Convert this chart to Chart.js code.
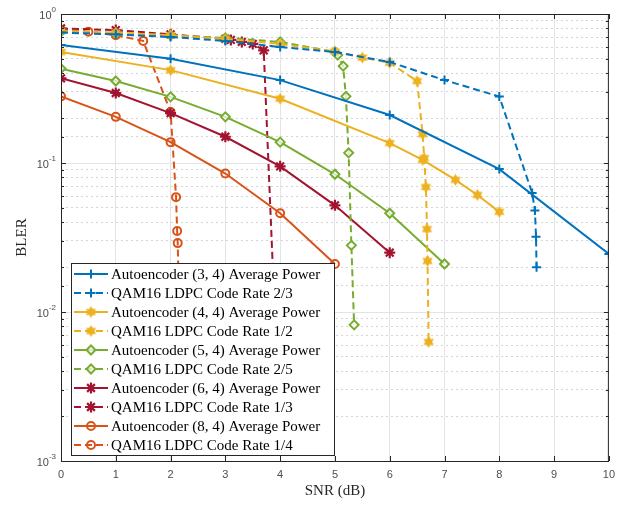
<!DOCTYPE html>
<html>
<head>
<meta charset="utf-8">
<script src="https://cdn.jsdelivr.net/npm/chart.js@4.4.0/dist/chart.umd.min.js"></script>
<style>
  html, body { margin: 0; padding: 0; background: #fff; }
  #wrap { width: 622px; height: 507px; }
</style>
</head>
<body>
<div id="wrap"><canvas id="blerChart" width="622" height="507"></canvas></div>
<script>
// ---- data ----
var xTicks = [0, 1, 2, 3, 4, 5, 6, 7, 8, 9, 10];
var yMajor = [1, 0.1, 0.01, 0.001];
var yMajorExp = ['0', '-1', '-2', '-3'];

var ae34Snr = [0, 2, 4, 6, 8, 10];
var ae34Bler = [0.62, 0.50, 0.36, 0.21, 0.091, 0.0245];
var qam23Snr = [0, 1, 2, 3, 4, 5, 6, 7, 8, 8.6, 8.65, 8.67, 8.68];
var qam23Bler = [0.75, 0.73, 0.70, 0.66, 0.60, 0.556, 0.476, 0.36, 0.279, 0.063, 0.048, 0.032, 0.020];

var ae44Snr = [0, 2, 4, 6, 6.6, 7.2, 7.6, 8];
var ae44Bler = [0.556, 0.42, 0.27, 0.136, 0.105, 0.077, 0.061, 0.047];
var qam12Snr = [0, 1, 2, 3, 4, 5, 5.5, 6, 6.5, 6.6, 6.63, 6.66, 6.68, 6.69, 6.71];
var qam12Bler = [0.77, 0.75, 0.72, 0.68, 0.63, 0.56, 0.51, 0.47, 0.355, 0.156, 0.108, 0.069, 0.036, 0.022, 0.0063];

var ae54Snr = [0, 1, 2, 3, 4, 5, 6, 7];
var ae54Bler = [0.43, 0.355, 0.278, 0.204, 0.138, 0.084, 0.046, 0.021];
var qam25Snr = [0, 1, 2, 3, 4, 5, 5.05, 5.15, 5.2, 5.25, 5.3, 5.35];
var qam25Bler = [0.76, 0.74, 0.72, 0.69, 0.65, 0.556, 0.53, 0.447, 0.28, 0.117, 0.028, 0.0082];

var ae64Snr = [0, 1, 2, 3, 4, 5, 6];
var ae64Bler = [0.37, 0.295, 0.216, 0.15, 0.095, 0.052, 0.025];
var qam13Snr = [0, 1, 2, 3, 3.1, 3.3, 3.5, 3.7, 3.9];
var qam13Bler = [0.80, 0.78, 0.73, 0.68, 0.67, 0.65, 0.63, 0.57, 0.01];

var ae84Snr = [0, 1, 2, 3, 4, 5];
var ae84Bler = [0.28, 0.204, 0.138, 0.085, 0.046, 0.021];
var qam14Snr = [0, 0.5, 1, 1.5, 2, 2.1, 2.12, 2.13, 2.16];
var qam14Bler = [0.78, 0.76, 0.72, 0.66, 0.22, 0.059, 0.035, 0.029, 0.01];

// matlab colours
var cBlue = '#0072BD', cYellow = '#EDB120', cGreen = '#77AC30', cRed = '#A2142F', cOrange = '#D95319';

// six pointed star marker (no hexagram in chart.js)
function makeHexagram(color) {
    var c = document.createElement('canvas');
    c.width = 13; c.height = 13;
    var g = c.getContext('2d');
    var cx = 6.5, cy = 6.5, r = 6;
    g.fillStyle = color;
    for (var t = 0; t < 2; t++) {
        g.beginPath();
        for (var k = 0; k < 3; k++) {
            var a = -Math.PI / 2 + t * Math.PI + k * 2 * Math.PI / 3;
            var px = cx + r * Math.cos(a), py = cy + r * Math.sin(a);
            if (k === 0) g.moveTo(px, py); else g.lineTo(px, py);
        }
        g.closePath();
        g.fill();
    }
    return c;
}
var hexStar = makeHexagram(cYellow);

function pts(xs, ys) {
    return xs.map(function(x, i) { return {x: x, y: ys[i]}; });
}

function series(label, xs, ys, color, dashed, marker) {
    var d = {
        label: label,
        data: pts(xs, ys),
        borderColor: color,
        borderWidth: 2,
        borderDash: dashed ? [7, 4] : [],
        fill: false,
        tension: 0,
        pointStyle: marker.style,
        pointRadius: marker.radius,
        pointBorderWidth: marker.width,
        pointBorderColor: color,
        pointBackgroundColor: marker.fill || 'rgba(0,0,0,0)'
    };
    return d;
}

var mPlus = {style: 'cross', radius: 4.5, width: 2};
var mHex = {style: hexStar, radius: 6, width: 0};
var mDiamond = {style: 'rectRot', radius: 4.5, width: 2, fill: 'rgba(255,255,255,0.7)'};
var mAst = {style: 'star', radius: 5.5, width: 2.2};
var mCircle = {style: 'circle', radius: 4, width: 2};

var datasets = [
    series('Autoencoder (3, 4) Average Power', ae34Snr, ae34Bler, cBlue, false, mPlus),
    series('QAM16 LDPC Code Rate 2/3', qam23Snr, qam23Bler, cBlue, true, mPlus),
    series('Autoencoder (4, 4) Average Power', ae44Snr, ae44Bler, cYellow, false, mHex),
    series('QAM16 LDPC Code Rate 1/2', qam12Snr, qam12Bler, cYellow, true, mHex),
    series('Autoencoder (5, 4) Average Power', ae54Snr, ae54Bler, cGreen, false, mDiamond),
    series('QAM16 LDPC Code Rate 2/5', qam25Snr, qam25Bler, cGreen, true, mDiamond),
    series('Autoencoder (6, 4) Average Power', ae64Snr, ae64Bler, cRed, false, mAst),
    series('QAM16 LDPC Code Rate 1/3', qam13Snr, qam13Bler, cRed, true, mAst),
    series('Autoencoder (8, 4) Average Power', ae84Snr, ae84Bler, cOrange, false, mCircle),
    series('QAM16 LDPC Code Rate 1/4', qam14Snr, qam14Bler, cOrange, true, mCircle)
];

function isDecade(v) {
    var l = Math.log10(v);
    return Math.abs(l - Math.round(l)) < 1e-6;
}

function drawMarker(ctx, m, color, x, y) {
    if (typeof m.style !== 'string') {
        ctx.drawImage(m.style, x - m.style.width / 2, y - m.style.height / 2);
        return;
    }
    ctx.save();
    ctx.strokeStyle = color;
    ctx.fillStyle = m.fill || 'rgba(0,0,0,0)';
    ctx.lineWidth = m.width;
    ctx.setLineDash([]);
    if (Chart.helpers && Chart.helpers.drawPoint) {
        Chart.helpers.drawPoint(ctx, {pointStyle: m.style, radius: m.radius, rotation: 0, borderWidth: m.width}, x, y);
    } else {
        ctx.beginPath();
        ctx.arc(x, y, m.radius, 0, Math.PI * 2);
        ctx.stroke();
    }
    ctx.restore();
}

var markers = [mPlus, mPlus, mHex, mHex, mDiamond, mDiamond, mAst, mAst, mCircle, mCircle];

// box around the axes + inward ticks like matlab, and 10^n labels with superscripts
var framePlugin = {
    id: 'frame',
    afterDatasetsDraw: function(chart) {
        var ctx = chart.ctx, a = chart.chartArea;
        var xs = chart.scales.x, ys = chart.scales.y;
        ctx.save();
        ctx.strokeStyle = '#262626';
        ctx.lineWidth = 1;
        ctx.setLineDash([]);
        ctx.strokeRect(a.left + 0.5, a.top + 0.5, a.right - a.left - 1, a.bottom - a.top);
        ctx.beginPath();
        xs.ticks.forEach(function(t) {
            var px = Math.round(xs.getPixelForValue(t.value)) + 0.5;
            ctx.moveTo(px, a.bottom); ctx.lineTo(px, a.bottom - 5);
            ctx.moveTo(px, a.top); ctx.lineTo(px, a.top + 5);
        });
        ys.ticks.forEach(function(t) {
            var py = Math.round(ys.getPixelForValue(t.value)) + 0.5;
            var len = isDecade(t.value) ? 5 : 3;
            ctx.moveTo(a.left, py); ctx.lineTo(a.left + len, py);
            ctx.moveTo(a.right, py); ctx.lineTo(a.right - len, py);
        });
        ctx.stroke();

        // y labels
        ctx.fillStyle = '#4d4d4d';
        ctx.textBaseline = 'middle';
        ctx.textAlign = 'right';
        yMajor.forEach(function(v, i) {
            var py = ys.getPixelForValue(v);
            ctx.font = '8px "Liberation Sans", "DejaVu Sans", sans-serif';
            var ew = ctx.measureText(yMajorExp[i]).width;
            ctx.fillText(yMajorExp[i], 56, py - 4);
            ctx.font = '11px "Liberation Sans", "DejaVu Sans", sans-serif';
            ctx.fillText('10', 56 - ew, py + 1.5);
        });
        ctx.restore();
    }
};

var legendPlugin = {
    id: 'boxLegend',
    afterDraw: function(chart) {
        var ctx = chart.ctx;
        var bx = 71, by = 263, bw = 263, bh = 192;
        ctx.save();
        ctx.fillStyle = '#ffffff';
        ctx.fillRect(bx, by, bw, bh);
        ctx.strokeStyle = '#262626';
        ctx.lineWidth = 1;
        ctx.strokeRect(bx + 0.5, by + 0.5, bw, bh);
        ctx.font = '15px "Liberation Serif", "Times New Roman", serif';
        ctx.textBaseline = 'middle';
        datasets.forEach(function(ds, i) {
            var y = 274 + i * 19;
            ctx.strokeStyle = ds.borderColor;
            ctx.lineWidth = 2;
            ctx.setLineDash(ds.borderDash);
            ctx.beginPath();
            ctx.moveTo(74, y); ctx.lineTo(108, y);
            ctx.stroke();
            ctx.setLineDash([]);
            drawMarker(ctx, markers[i], ds.borderColor, 91, y);
            ctx.fillStyle = '#000';
            ctx.fillText(ds.label, 111, y + 1);
        });
        ctx.restore();
    }
};

var tickFont = {family: '"Liberation Sans", "DejaVu Sans", sans-serif', size: 11};
var titleFont = {family: '"Liberation Serif", "Times New Roman", serif', size: 15};

var ctx = document.getElementById('blerChart').getContext('2d');
var chart = new Chart(ctx, {
    type: 'line',
    data: { datasets: datasets },
    options: {
        responsive: false,
        animation: false,
        events: [],
        layout: { padding: { top: 14, right: 4, left: 0, bottom: 0 } },
        plugins: { legend: { display: false }, tooltip: { enabled: false } },
        scales: {
            x: {
                type: 'linear',
                min: 0, max: 10,
                afterBuildTicks: function(scale) {
                    scale.ticks = xTicks.map(function(v) { return {value: v}; });
                },
                ticks: { color: '#4d4d4d', font: tickFont, padding: 7, maxRotation: 0 },
                grid: { color: '#e3e3e3', lineWidth: 1, drawTicks: false },
                border: { display: false },
                title: { display: true, text: 'SNR (dB)', color: '#262626', font: titleFont, padding: { top: 0, bottom: 7 } },
                afterFit: function(scale) { scale.height = 46; }
            },
            y: {
                type: 'logarithmic',
                min: 0.001, max: 1,
                ticks: { display: false, autoSkip: false },
                grid: {
                    drawTicks: false,
                    color: function(c) { return c.tick && isDecade(c.tick.value) ? '#e3e3e3' : 'rgba(0,0,0,0)'; }
                },
                border: { display: false },
                title: { display: true, text: 'BLER', color: '#262626', font: titleFont, padding: { top: 13, bottom: 0 } },
                afterFit: function(scale) { scale.width = 61; }
            },
            // second copy of the y scale, only for the dotted minor grid
            yMinor: {
                type: 'logarithmic',
                position: 'left',
                min: 0.001, max: 1,
                ticks: { display: false, autoSkip: false },
                grid: {
                    drawTicks: false,
                    color: function(c) { return c.tick && !isDecade(c.tick.value) ? '#d6d6d6' : 'rgba(0,0,0,0)'; }
                },
                border: { display: false, dash: [2, 3] },
                afterFit: function(scale) { scale.width = 0; }
            }
        }
    },
    plugins: [framePlugin, legendPlugin]
});
</script>
</body>
</html>
